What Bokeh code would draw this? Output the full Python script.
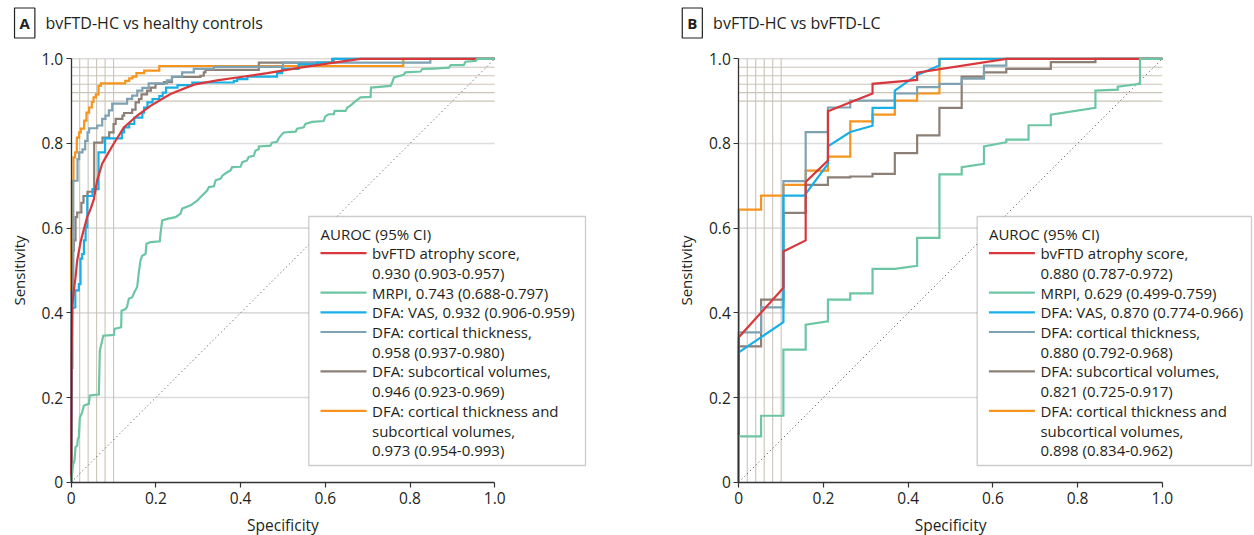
from bokeh.plotting import figure
from bokeh.models import Range1d, FixedTicker, Label, BoxAnnotation
from bokeh.layouts import row
from bokeh.embed import file_html
from bokeh.resources import INLINE

FONT = "Open Sans"
TXT = "#231f20"

# ---------------- data ----------------
TICKS = [0, 0.2, 0.4, 0.6, 0.8, 1.0]
TICK_LABELS = ["0", "0.2", "0.4", "0.6", "0.8", "1.0"]
GRID_MAJOR = [0.2, 0.4, 0.6, 0.8, 1.0]
GRID_FINE_Y = [0.90, 0.92, 0.94, 0.96, 0.98]
GRID_FINE_X = [0.02, 0.04, 0.06, 0.08, 0.10]

MODELS = ["bvFTD atrophy score", "MRPI", "DFA: VAS", "DFA: cortical thickness",
          "DFA: subcortical volumes", "DFA: cortical thickness and subcortical volumes"]
COLORS = ["#d8383c", "#6cc6a4", "#17afe6", "#7fa2b3", "#8b7f76", "#f7941d"]

A_TITLE = "bvFTD-HC vs healthy controls"
B_TITLE = "bvFTD-HC vs bvFTD-LC"
A_AUC = ["0.930 (0.903-0.957)", "0.743 (0.688-0.797)", "0.932 (0.906-0.959)",
         "0.958 (0.937-0.980)", "0.946 (0.923-0.969)", "0.973 (0.954-0.993)"]
B_AUC = ["0.880 (0.787-0.972)", "0.629 (0.499-0.759)", "0.870 (0.774-0.966)",
         "0.880 (0.792-0.968)", "0.821 (0.725-0.917)", "0.898 (0.834-0.962)"]

# Panel A curves (x = axis position, y = sensitivity)
A_RED_X = [0, 0.001, 0.0023, 0.0062, 0.0102, 0.0141, 0.022, 0.030, 0.0377, 0.0456, 0.0534, 0.0613,
           0.0731, 0.0849, 0.1007, 0.1243, 0.156, 0.1873, 0.2345, 0.2896, 0.3447, 0.3998, 0.463,
           0.541, 0.620, 0.683, 1.0]
A_RED_Y = [0, 0.30, 0.413, 0.453, 0.484, 0.523, 0.567, 0.598, 0.626, 0.645, 0.668, 0.713,
           0.752, 0.773, 0.800, 0.838, 0.866, 0.889, 0.917, 0.939, 0.949, 0.957, 0.966,
           0.979, 0.991, 1.0, 1.0]

A_GREEN_X = [0, 0.0047, 0.0078, 0.0102, 0.0141, 0.0157, 0.018, 0.0204, 0.0259, 0.030, 0.0417, 0.0440,
             0.0653, 0.0676, 0.0731, 0.0755, 0.1007, 0.1022, 0.118, 0.1188, 0.1282, 0.1321, 0.136,
             0.144, 0.1495, 0.1558, 0.1597, 0.1637, 0.1676, 0.1755, 0.1778, 0.1873, 0.2093, 0.2109,
             0.2148, 0.2266, 0.2463, 0.258, 0.262, 0.2817, 0.2975, 0.305, 0.321, 0.325, 0.337,
             0.341, 0.353, 0.357, 0.368, 0.376, 0.380, 0.400, 0.404, 0.415, 0.419, 0.431, 0.435,
             0.443, 0.443, 0.4706, 0.474, 0.486, 0.490, 0.498, 0.502, 0.530, 0.5336, 0.549, 0.553,
             0.569, 0.596, 0.600, 0.608, 0.620, 0.622, 0.648, 0.652, 0.660, 0.668, 0.683, 0.707,
             0.708, 0.754, 0.758, 0.762, 0.785, 0.789, 0.825, 0.829, 0.856, 0.892, 0.896, 0.927,
             0.931, 0.955, 0.959, 1.0]
A_GREEN_Y = [0, 0.043, 0.051, 0.083, 0.086, 0.102, 0.106, 0.153, 0.165, 0.181, 0.185, 0.205,
             0.207, 0.311, 0.334, 0.346, 0.348, 0.362, 0.366, 0.405, 0.409, 0.415, 0.433,
             0.437, 0.449, 0.461, 0.496, 0.524, 0.535, 0.539, 0.563, 0.567, 0.569, 0.587,
             0.618, 0.622, 0.626, 0.634, 0.646, 0.654, 0.665, 0.673, 0.689, 0.697, 0.699,
             0.713, 0.717, 0.724, 0.732, 0.736, 0.744, 0.745, 0.756, 0.760, 0.768, 0.771, 0.783,
             0.787, 0.793, 0.795, 0.802, 0.804, 0.812, 0.822, 0.826, 0.828, 0.835, 0.838, 0.846,
             0.851, 0.853, 0.864, 0.869, 0.869, 0.877, 0.877, 0.885, 0.890, 0.897, 0.909, 0.910,
             0.932, 0.936, 0.944, 0.956, 0.962, 0.968, 0.970, 0.976, 0.977, 0.979, 0.985, 0.985,
             0.993, 0.995, 1.0, 1.0]

A_BLUE_X = [0, 0.002, 0.0097, 0.0097, 0.018, 0.018, 0.022, 0.022, 0.026, 0.026, 0.030, 0.030,
            0.034, 0.034, 0.038, 0.038, 0.0503, 0.0503, 0.0645, 0.0645, 0.080, 0.080, 0.1196,
            0.1196, 0.125, 0.125, 0.137, 0.137, 0.149, 0.149, 0.168, 0.168, 0.172, 0.172, 0.180,
            0.180, 0.192, 0.192, 0.208, 0.208, 0.216, 0.216, 0.224, 0.224, 0.251, 0.251, 0.286,
            0.286, 0.384, 0.384, 0.392, 0.392, 0.416, 0.416, 0.486, 0.486, 0.498, 0.498, 0.537,
            0.537, 0.580, 0.580, 0.616, 0.616, 1.0]
A_BLUE_Y = [0, 0.41, 0.413, 0.453, 0.453, 0.468, 0.468, 0.528, 0.528, 0.539, 0.539, 0.571,
            0.571, 0.602, 0.602, 0.676, 0.676, 0.692, 0.692, 0.779, 0.779, 0.812, 0.812,
            0.826, 0.826, 0.838, 0.838, 0.846, 0.846, 0.861, 0.861, 0.873, 0.873, 0.885, 0.885,
            0.897, 0.897, 0.905, 0.905, 0.912, 0.912, 0.920, 0.920, 0.932, 0.932, 0.938, 0.938,
            0.944, 0.944, 0.948, 0.948, 0.952, 0.952, 0.958, 0.958, 0.966, 0.966, 0.976, 0.976,
            0.987, 0.987, 0.991, 0.991, 1.0, 1.0]

A_GRAYBLUE_X = [0, 0, 0.005, 0.005, 0.0149, 0.0149, 0.0188, 0.0188, 0.0267, 0.0267, 0.033, 0.033,
                0.0385, 0.0385, 0.0424, 0.0424, 0.0614, 0.0614, 0.0732, 0.0732, 0.081, 0.081,
                0.0889, 0.0889, 0.0968, 0.0968, 0.132, 0.132, 0.144, 0.144, 0.156, 0.156, 0.168,
                0.168, 0.183, 0.183, 0.226, 0.226, 0.238, 0.238, 0.262, 0.262, 0.2895, 0.2895,
                0.337, 0.337, 0.500, 0.500, 0.848, 0.848, 1.0]
A_GRAYBLUE_Y = [0, 0.45, 0.45, 0.712, 0.712, 0.763, 0.763, 0.779, 0.779, 0.786, 0.786, 0.806,
                0.806, 0.826, 0.826, 0.836, 0.836, 0.8425, 0.8425, 0.858, 0.858, 0.866,
                0.866, 0.878, 0.878, 0.894, 0.894, 0.9055, 0.9055, 0.913, 0.913, 0.925, 0.925,
                0.9315, 0.9315, 0.942, 0.942, 0.949, 0.949, 0.958, 0.958, 0.968, 0.968, 0.976,
                0.976, 0.981, 0.981, 0.991, 0.991, 1.0, 1.0]

A_BROWN_X = [0, 0, 0.0027, 0.0027, 0.0062, 0.0062, 0.0102, 0.0102, 0.0141, 0.0141, 0.024, 0.024,
             0.029, 0.029, 0.0385, 0.0385, 0.0543, 0.0543, 0.074, 0.074, 0.0897, 0.0897, 0.100,
             0.100, 0.105, 0.105, 0.121, 0.121, 0.125, 0.125, 0.144, 0.144, 0.152, 0.152, 0.160,
             0.160, 0.166, 0.166, 0.179, 0.179, 0.188, 0.188, 0.199, 0.199, 0.219, 0.219, 0.238,
             0.238, 0.305, 0.305, 0.313, 0.313, 0.317, 0.317, 0.443, 0.443, 0.620, 0.620, 1.0]
A_BROWN_Y = [0, 0.27, 0.27, 0.547, 0.547, 0.571, 0.571, 0.626, 0.626, 0.637, 0.637, 0.66,
             0.66, 0.676, 0.676, 0.686, 0.686, 0.802, 0.802, 0.814, 0.814, 0.826, 0.826,
             0.846, 0.846, 0.858, 0.858, 0.866, 0.866, 0.872, 0.872, 0.880, 0.880, 0.897, 0.897,
             0.905, 0.905, 0.916, 0.916, 0.925, 0.925, 0.932, 0.932, 0.941, 0.941, 0.945, 0.945,
             0.957, 0.957, 0.960, 0.960, 0.968, 0.968, 0.974, 0.974, 0.991, 0.991, 1.0, 1.0]

A_ORANGE_X = [0, 0, 0.0015, 0.0015, 0.0054, 0.0054, 0.0094, 0.0094, 0.0133, 0.0133, 0.0188, 0.0188,
              0.0227, 0.0227, 0.0306, 0.0306, 0.0361, 0.0361, 0.0424, 0.0424, 0.0487, 0.0487,
              0.0527, 0.0527, 0.0582, 0.0582, 0.0645, 0.0645, 0.070, 0.070, 0.1275, 0.1275, 0.137,
              0.137, 0.1448, 0.1448, 0.154, 0.154, 0.1724, 0.1724, 0.208, 0.208, 0.784, 0.784, 1.0]
A_ORANGE_Y = [0, 0.60, 0.60, 0.712, 0.712, 0.767, 0.767, 0.779, 0.779, 0.814, 0.814, 0.826,
              0.826, 0.835, 0.835, 0.854, 0.854, 0.873, 0.873, 0.885, 0.885, 0.898,
              0.898, 0.909, 0.909, 0.916, 0.916, 0.936, 0.936, 0.942, 0.942, 0.948, 0.948,
              0.954, 0.954, 0.958, 0.958, 0.966, 0.966, 0.972, 0.972, 0.983, 0.983, 1.0, 1.0]

# Panel B curves
B_RED_X = [0, 0, 0.1053, 0.1053, 0.1579, 0.1579, 0.2105, 0.2105, 0.3158, 0.3158, 0.4211, 0.4211,
           0.6316, 1.0]
B_RED_Y = [0, 0.3425, 0.459, 0.545, 0.571, 0.709, 0.760, 0.876, 0.918, 0.941, 0.950, 0.967,
           1.0, 1.0]

B_GREEN_X = [0, 0, 0.0526, 0.0526, 0.1053, 0.1053, 0.1579, 0.1579, 0.2105, 0.2105, 0.2632, 0.2632,
             0.3158, 0.3158, 0.3684, 0.4211, 0.4211, 0.4737, 0.4737, 0.5263, 0.5263, 0.5789,
             0.5789, 0.6316, 0.6316, 0.6842, 0.6842, 0.7368, 0.7368, 0.8421, 0.8421, 0.8947,
             0.8947, 0.9474, 0.9474, 1.0]
B_GREEN_Y = [0, 0.108, 0.108, 0.157, 0.157, 0.313, 0.313, 0.372, 0.380, 0.431, 0.431, 0.446,
             0.446, 0.504, 0.504, 0.511, 0.577, 0.577, 0.727, 0.727, 0.744, 0.752,
             0.793, 0.803, 0.809, 0.809, 0.843, 0.843, 0.868, 0.884, 0.925, 0.927,
             0.934, 0.941, 1.0, 1.0]

B_BLUE_X = [0, 0, 0.1053, 0.1053, 0.1579, 0.1579, 0.2105, 0.2105, 0.2632, 0.3158, 0.3158, 0.3684,
            0.3684, 0.4211, 0.4737, 0.4737, 1.0]
B_BLUE_Y = [0, 0.307, 0.378, 0.677, 0.677, 0.681, 0.752, 0.793, 0.827, 0.842, 0.884, 0.884,
            0.925, 0.962, 0.984, 1.0, 1.0]

B_GRAYBLUE_X = [0, 0, 0.0526, 0.0526, 0.1053, 0.1053, 0.1579, 0.1579, 0.2105, 0.2105, 0.2632,
                0.2632, 0.3684, 0.3684, 0.4211, 0.4211, 0.4737, 0.4737, 0.5263, 0.5263, 0.5789,
                0.5789, 0.6316, 0.6316, 1.0]
B_GRAYBLUE_Y = [0, 0.354, 0.354, 0.413, 0.413, 0.711, 0.711, 0.827, 0.827, 0.885, 0.885,
                0.901, 0.901, 0.918, 0.918, 0.933, 0.933, 0.941, 0.941, 0.953, 0.953,
                0.984, 0.984, 1.0, 1.0]

B_BROWN_X = [0, 0, 0.0526, 0.0526, 0.1053, 0.1053, 0.1579, 0.1579, 0.2105, 0.2105, 0.2632, 0.2632,
             0.3158, 0.3158, 0.3684, 0.3684, 0.4211, 0.4211, 0.4737, 0.4737, 0.5263, 0.5263,
             0.5789, 0.5789, 0.6316, 0.6316, 0.7368, 0.7368, 0.8421, 0.8421, 1.0]
B_BROWN_Y = [0, 0.321, 0.321, 0.431, 0.431, 0.636, 0.636, 0.702, 0.702, 0.720, 0.720, 0.722,
             0.722, 0.728, 0.728, 0.777, 0.777, 0.819, 0.819, 0.884, 0.884, 0.958,
             0.958, 0.968, 0.968, 0.976, 0.976, 0.992, 0.992, 1.0, 1.0]

B_ORANGE_X = [0, 0, 0.0526, 0.0526, 0.1053, 0.1053, 0.1579, 0.1579, 0.2105, 0.2105, 0.2632, 0.2632,
              0.3158, 0.3158, 0.3684, 0.3684, 0.4211, 0.4211, 0.4737, 0.4737, 1.0]
B_ORANGE_Y = [0, 0.644, 0.644, 0.677, 0.677, 0.702, 0.702, 0.736, 0.736, 0.769, 0.769, 0.852,
              0.852, 0.868, 0.868, 0.901, 0.901, 0.918, 0.918, 1.0, 1.0]

A_CURVES = [(A_RED_X, A_RED_Y), (A_GREEN_X, A_GREEN_Y), (A_BLUE_X, A_BLUE_Y),
            (A_GRAYBLUE_X, A_GRAYBLUE_Y), (A_BROWN_X, A_BROWN_Y), (A_ORANGE_X, A_ORANGE_Y)]
B_CURVES = [(B_RED_X, B_RED_Y), (B_GREEN_X, B_GREEN_Y), (B_BLUE_X, B_BLUE_Y),
            (B_GRAYBLUE_X, B_GRAYBLUE_Y), (B_BROWN_X, B_BROWN_Y), (B_ORANGE_X, B_ORANGE_Y)]

DRAW_ORDER = [5, 4, 3, 2, 0, 1]

# ---------------- layout constants (pixels) ----------------
SCALE_X = 423.5      # px per unit on x
SCALE_Y = 423.4      # px per unit on y
FIG_H = 535
Y0_FROM_TOP = 481.7  # pixel row of sensitivity 0


def legend_lines(name, auc):
    if name in ("MRPI", "DFA: VAS"):
        return [name + ", " + auc]
    if name.endswith("and subcortical volumes"):
        return ["DFA: cortical thickness and", "subcortical volumes,", auc]
    return [name + ",", auc]


def make_panel(letter, title, curves, aucs, width, x0_px, legend_left, legend_right):
    # frame covers the whole canvas; x0_px is the pixel column of x=0 inside this figure
    p = figure(width=width, height=FIG_H,
               x_range=Range1d(-x0_px / SCALE_X, (width - x0_px) / SCALE_X),
               y_range=Range1d(-(FIG_H - Y0_FROM_TOP) / SCALE_Y, Y0_FROM_TOP / SCALE_Y),
               output_backend="svg", toolbar_location=None, min_border=0)
    p.outline_line_color = None
    p.xgrid.visible = False
    p.ygrid.visible = False

    # grid lines
    p.segment(x0=[0] * len(GRID_MAJOR), y0=GRID_MAJOR, x1=[1] * len(GRID_MAJOR), y1=GRID_MAJOR,
              line_color="#dcdcdc", line_width=1.6)
    p.segment(x0=[0] * len(GRID_FINE_Y), y0=GRID_FINE_Y, x1=[1] * len(GRID_FINE_Y), y1=GRID_FINE_Y,
              line_color="#cbc4b8", line_width=1.1)
    p.segment(x0=GRID_FINE_X, y0=[0] * len(GRID_FINE_X), x1=GRID_FINE_X, y1=[1] * len(GRID_FINE_X),
              line_color="#cbc4b8", line_width=1.1)
    # chance line
    p.line([0, 1], [0, 1], line_color="#444444", line_width=1, line_dash="1 3")

    for i in DRAW_ORDER:
        xs, ys = curves[i]
        p.line(xs, ys, line_color=COLORS[i], line_width=2.2, line_join="miter")

    for ax in (p.xaxis[0], p.yaxis[0]):
        ax.fixed_location = 0
        ax.bounds = (0, 1)
        ax.ticker = FixedTicker(ticks=TICKS)
        ax.major_label_overrides = {t: l for t, l in zip(TICKS, TICK_LABELS)}
        ax.minor_tick_line_color = None
        ax.major_tick_in = 0
        ax.major_tick_out = 5
        ax.axis_line_color = "#333333"
        ax.axis_line_width = 1.3
        ax.major_tick_line_color = "#333333"
        ax.major_tick_line_width = 1.2
        ax.major_label_text_font = FONT
        ax.major_label_text_font_size = "15.5px"
        ax.major_label_text_color = TXT
    p.xaxis[0].major_label_standoff = 5
    p.yaxis[0].major_label_standoff = 3

    def lab(x, y, text, **kw):
        opts = dict(x=x, y=y, x_units="screen", y_units="screen", text=text,
                    text_align="left", text_baseline="middle", text_font=FONT,
                    text_font_size="15px", text_color=TXT)
        opts.update(kw)
        p.add_layout(Label(**opts))

    # panel title (screen units: from canvas bottom-left)
    lab(x0_px - 46.5, FIG_H - 22.5, letter, text_align="center", text_font_style="bold",
        border_line_color=TXT, border_line_width=1.2, background_fill_color="white", padding=5)
    lab(x0_px - 25.7, FIG_H - 22.5, title, text_font_size="16px")
    # axis titles
    lab(x0_px - 52.7, FIG_H - 270, "Sensitivity", angle=90, angle_units="deg", text_align="center")
    lab(x0_px + 0.5 * SCALE_X, FIG_H - 524, "Specificity", text_align="center",
        text_font_size="15.5px")

    # legend
    p.add_layout(BoxAnnotation(left=legend_left, right=legend_right,
                               bottom=FIG_H - 465, top=FIG_H - 216,
                               left_units="screen", right_units="screen",
                               bottom_units="screen", top_units="screen",
                               fill_color="white", fill_alpha=1.0,
                               line_color="#555555", line_width=1.3))
    row_h = 19.7
    y_title = FIG_H - 233
    lab(legend_left + 11.7, y_title, "AUROC (95% CI)")
    k = 1
    for i, name in enumerate(MODELS):
        ys = y_title - k * row_h
        p.add_layout(BoxAnnotation(left=legend_left + 11.7, right=legend_left + 57.7,
                                   bottom=ys - 1.1, top=ys + 1.1,
                                   left_units="screen", right_units="screen",
                                   bottom_units="screen", top_units="screen",
                                   fill_color=COLORS[i], fill_alpha=1.0, line_color=None))
        for ln in legend_lines(name, aucs[i]):
            lab(legend_left + 63.2, y_title - k * row_h, ln)
            k += 1
    return p


pA = make_panel("A", A_TITLE, A_CURVES, A_AUC, 596, 70.7, 308.3, 585)
pB = make_panel("B", B_TITLE, B_CURVES, B_AUC, 658, 142.3, 380.7, 655)

layout = row(pA, pB)
open("out.html", "w").write(file_html(layout, INLINE))
